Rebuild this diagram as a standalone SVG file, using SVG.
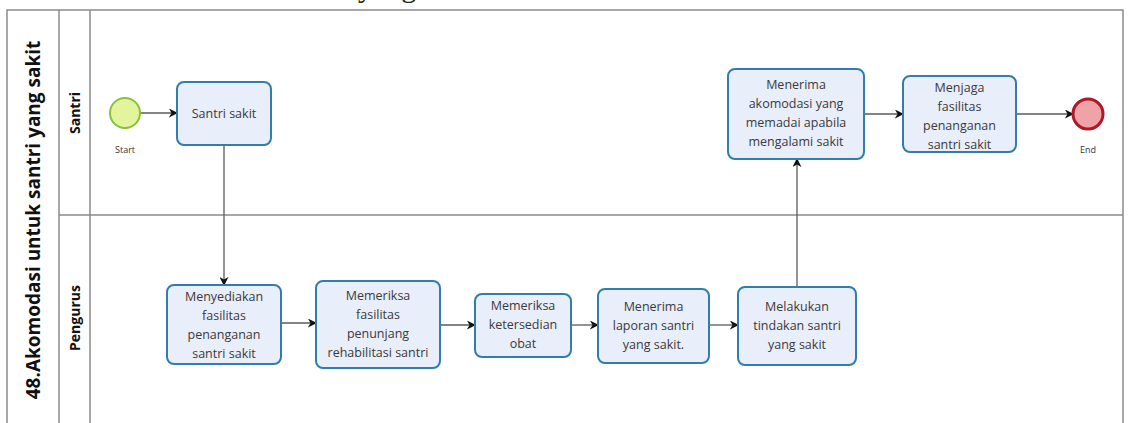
<svg xmlns="http://www.w3.org/2000/svg" width="1131" height="423" viewBox="0 0 1131 423">
<style>
.lane{fill:none;stroke:#8a8a8a;stroke-width:1.5}
.task{fill:#e9eefb;stroke:#2f7eab;stroke-width:2}
.tt{font-family:"Open Sans",sans-serif;font-size:12.5px;fill:#3a3a3a;text-anchor:middle}
.lbl{font-family:"Open Sans",sans-serif;font-size:9px;fill:#333;text-anchor:middle}
.conn{fill:none;stroke:#5a5a5a;stroke-width:1.3}
.title{font-family:"Open Sans",sans-serif;font-weight:bold;fill:#111;text-anchor:middle}
</style>
<defs>
<marker id="arr" viewBox="0 0 10 10" refX="9" refY="5" markerWidth="9" markerHeight="9" markerUnits="userSpaceOnUse" orient="auto">
<path d="M0,0 L10,5 L0,10 L3,5 z" fill="#111"/>
</marker>
</defs>
<rect width="1131" height="423" fill="#ffffff"/>
<text x="358" y="-3" font-family="Liberation Serif, serif" font-size="30" fill="#222">yang</text>
<g id="pool">
<path class="lane" d="M7,430 L7,10 L1123,10 L1123,430"/>
<line class="lane" x1="59" y1="10" x2="59" y2="430"/>
<line class="lane" x1="90" y1="10" x2="90" y2="430"/>
<line class="lane" x1="59" y1="215" x2="1123" y2="215"/>
<text class="title" font-size="19" transform="translate(40,220) rotate(-90)">48.Akomodasi untuk santri yang sakit</text>
<text class="title" font-size="14" transform="translate(80,113) rotate(-90)">Santri</text>
<text class="title" font-size="14" transform="translate(80,318) rotate(-90)">Pengurus</text>
</g>
<g id="connectors">
<line class="conn" x1="140" y1="113" x2="177" y2="113" marker-end="url(#arr)"/>
<line class="conn" x1="224" y1="145" x2="224" y2="285" marker-end="url(#arr)"/>
<line class="conn" x1="281" y1="323" x2="316" y2="323" marker-end="url(#arr)"/>
<line class="conn" x1="440" y1="325" x2="475" y2="325" marker-end="url(#arr)"/>
<line class="conn" x1="571" y1="325" x2="598" y2="325" marker-end="url(#arr)"/>
<line class="conn" x1="709" y1="325" x2="738" y2="325" marker-end="url(#arr)"/>
<line class="conn" x1="797" y1="287" x2="797" y2="159" marker-end="url(#arr)"/>
<line class="conn" x1="864" y1="114" x2="903" y2="114" marker-end="url(#arr)"/>
<line class="conn" x1="1016" y1="114" x2="1073" y2="114" marker-end="url(#arr)"/>
</g>
<g id="start">
<circle cx="125" cy="113" r="15" fill="#e3f59c" stroke="#86c23a" stroke-width="2"/>
<text class="lbl" x="125" y="153">Start</text>
</g>
<g id="t-santri-sakit">
<rect class="task" x="177" y="82" width="94" height="63" rx="7"/>
<text class="tt" x="224" y="118">Santri sakit</text>
</g>
<g id="t-menyediakan">
<rect class="task" x="167" y="285" width="114" height="79" rx="7"/>
<text class="tt" x="224" y="301">Menyediakan</text>
<text class="tt" x="224" y="320">fasilitas</text>
<text class="tt" x="224" y="339">penanganan</text>
<text class="tt" x="224" y="358">santri sakit</text>
</g>
<g id="t-memeriksa-fasilitas">
<rect class="task" x="316" y="281" width="124" height="87" rx="7"/>
<text class="tt" x="378" y="300">Memeriksa</text>
<text class="tt" x="378" y="319">fasilitas</text>
<text class="tt" x="378" y="338">penunjang</text>
<text class="tt" x="378" y="357">rehabilitasi santri</text>
</g>
<g id="t-memeriksa-obat">
<rect class="task" x="475" y="294" width="96" height="63" rx="7"/>
<text class="tt" x="523" y="310">Memeriksa</text>
<text class="tt" x="523" y="329">ketersedian</text>
<text class="tt" x="523" y="348">obat</text>
</g>
<g id="t-menerima-laporan">
<rect class="task" x="598" y="289" width="111" height="74" rx="7"/>
<text class="tt" x="653.5" y="311">Menerima</text>
<text class="tt" x="653.5" y="330">laporan santri</text>
<text class="tt" x="653.5" y="349">yang sakit.</text>
</g>
<g id="t-melakukan">
<rect class="task" x="738" y="287" width="118" height="78" rx="7"/>
<text class="tt" x="797" y="311">Melakukan</text>
<text class="tt" x="797" y="330">tindakan santri</text>
<text class="tt" x="797" y="349">yang sakit</text>
</g>
<g id="t-menerima-akomodasi">
<rect class="task" x="728" y="69" width="136" height="90" rx="7"/>
<text class="tt" x="796" y="89">Menerima</text>
<text class="tt" x="796" y="108">akomodasi yang</text>
<text class="tt" x="796" y="127">memadai apabila</text>
<text class="tt" x="796" y="146">mengalami sakit</text>
</g>
<g id="t-menjaga">
<rect class="task" x="903" y="76" width="113" height="76" rx="7"/>
<text class="tt" x="959.5" y="92">Menjaga</text>
<text class="tt" x="959.5" y="111">fasilitas</text>
<text class="tt" x="959.5" y="130">penanganan</text>
<text class="tt" x="959.5" y="149">santri sakit</text>
</g>
<g id="end">
<circle cx="1088" cy="114" r="15" fill="#f0a3a6" stroke="#b0182a" stroke-width="3"/>
<text class="lbl" x="1088" y="153">End</text>
</g>
</svg>
